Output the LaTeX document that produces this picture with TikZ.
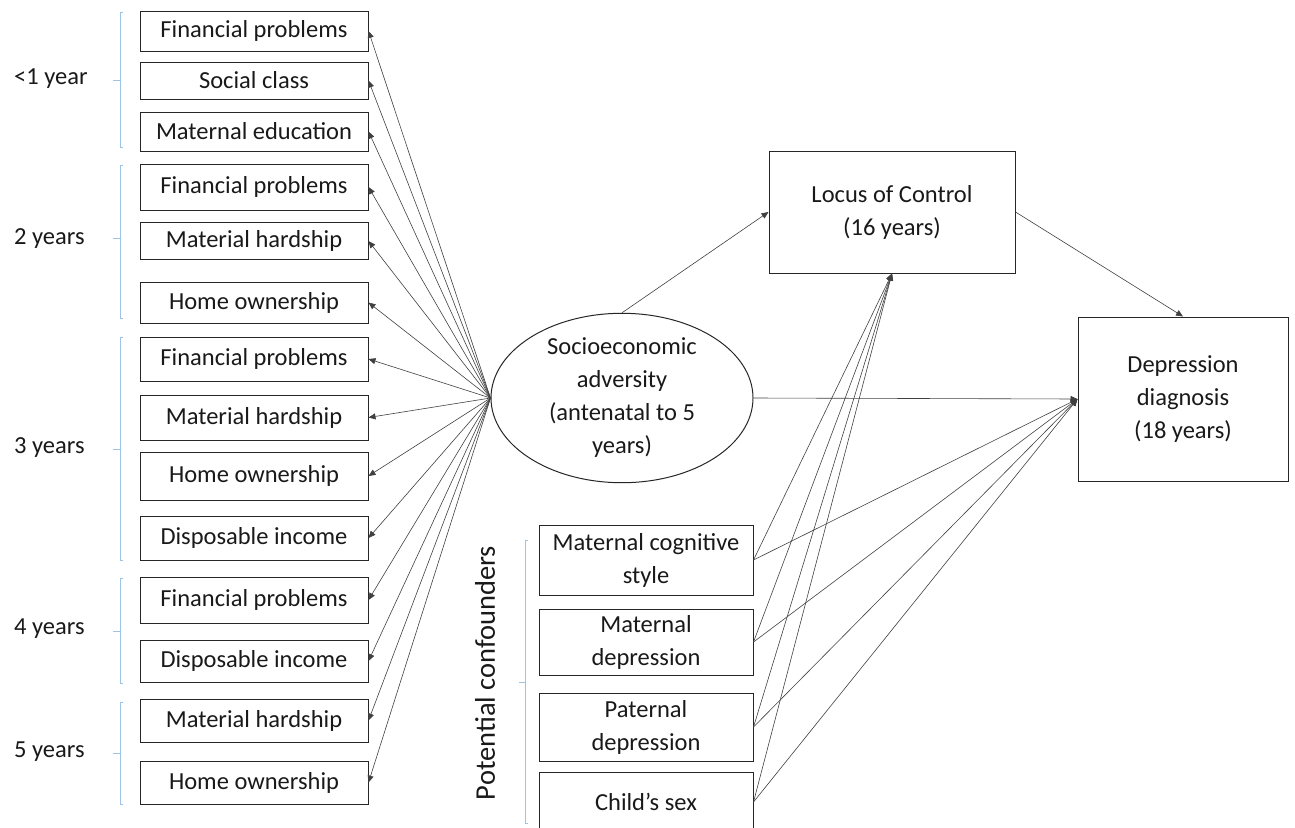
\documentclass[tikz,border=0pt]{standalone}
\usepackage{fontspec}
\setmainfont{Carlito}
\usetikzlibrary{shapes.geometric,arrows.meta}
\newcommand\dgfont{\fontsize{24.5}{33}\selectfont}
\newcommand\pcfont{\fontsize{28.5}{34}\selectfont}
\definecolor{brk}{RGB}{157,195,230}
\begin{document}
\begin{tikzpicture}[x=1pt,y=-1pt,
 box/.style={draw=black!85,line width=1pt,inner sep=0pt,align=center,font=\dgfont,text=black!90},
 lbox/.style={box,minimum width=228},
 cbox/.style={box,minimum width=214},
 conn/.style={draw=black!75,line width=0.6pt,-{Triangle[length=7pt,width=6pt]}},
 brace/.style={draw=brk,line width=0.8pt},
 lbl/.style={font=\dgfont,anchor=west,inner sep=0pt,text=black!90}]
\useasboundingbox (0,0) rectangle (1295,827);
% left boxes
\node[lbox,minimum height=40] (b1) at (254,31) {Financial problems};
\node[lbox,minimum height=37] (b2) at (254,80.5) {Social class};
\node[lbox,minimum height=39] (b3) at (254,131.5) {Maternal education};
\node[lbox,minimum height=46] (b4) at (254,187) {Financial problems};
\node[lbox,minimum height=37] (b5) at (254,241) {Material hardship};
\node[lbox,minimum height=41] (b6) at (254,302.5) {Home ownership};
\node[lbox,minimum height=44] (b7) at (254,359) {Financial problems};
\node[lbox,minimum height=45] (b8) at (254,417.5) {Material hardship};
\node[lbox,minimum height=48] (b9) at (254,476) {Home ownership};
\node[lbox,minimum height=44] (b10) at (254,538) {Disposable income};
\node[lbox,minimum height=46] (b11) at (254,600) {Financial problems};
\node[lbox,minimum height=42] (b12) at (254,661) {Disposable income};
\node[lbox,minimum height=43] (b13) at (254,720.5) {Material hardship};
\node[lbox,minimum height=43] (b14) at (254,782.5) {Home ownership};
% age labels
\node[lbl] (l1) at (14,79) {<1 year};
\node[lbl] (l2) at (14,239) {2 years};
\node[lbl] (l3) at (14,448) {3 years};
\node[lbl] (l4) at (14,629) {4 years};
\node[lbl] (l5) at (14,752) {5 years};
% brackets
\draw[brace] (123,12) -- (120,12) -- (120,147) -- (123,147) (120,80) -- (113,80);
\draw[brace] (123,165) -- (120,165) -- (120,318) -- (123,318) (120,238) -- (113,238);
\draw[brace] (123,337) -- (120,337) -- (120,560) -- (123,560) (120,449) -- (113,449);
\draw[brace] (123,578) -- (120,578) -- (120,683) -- (123,683) (120,631) -- (113,631);
\draw[brace] (123,702) -- (120,702) -- (120,804) -- (123,804) (120,753) -- (113,753);
% ellipse
\node[ellipse,draw=black!85,line width=1pt,minimum width=262,minimum height=164,inner sep=0pt,align=center,font=\dgfont,text=black!90] (ses) at (622,398) {Socioeconomic\\adversity\\(antenatal to 5\\years)};
% outcome boxes
\node[box,minimum width=246,minimum height=122] (loc) at (892,212) {Locus of Control\\(16 years)};
\node[box,minimum width=210,minimum height=164] (dep) at (1183,399) {Depression\\diagnosis\\(18 years)};
% confounders
\node[cbox,minimum height=70] (c1) at (646,560) {Maternal cognitive\\style};
\node[cbox,minimum height=66] (c2) at (646,642) {Maternal\\depression};
\node[cbox,minimum height=68] (c3) at (646,727) {Paternal\\depression};
\node[cbox,minimum height=60] (c4) at (646,802) {Child’s sex};
\node[font=\pcfont,rotate=90,inner sep=0pt,text=black!90] (pc) at (485,673) {Potential confounders};
\draw[brace] (528,540) -- (525,540) -- (525,823) -- (528,823) (525,682) -- (519,682);
% connectors
\foreach \b in {b1,b2,b3,b4,b5,b6,b7,b8,b9,b10,b11,b12,b13,b14}
  \draw[conn] (ses.west) -- (\b.east);
\draw[conn] (ses.north) -- (loc.west);
\draw[conn] (ses.east) -- (dep.west);
\draw[conn] (loc.east) -- (dep.north);
\foreach \c in {c1,c2,c3,c4} {
  \draw[conn] (\c.east) -- (loc.south);
  \draw[conn] (\c.east) -- (dep.west);
}
\end{tikzpicture}
\end{document}
